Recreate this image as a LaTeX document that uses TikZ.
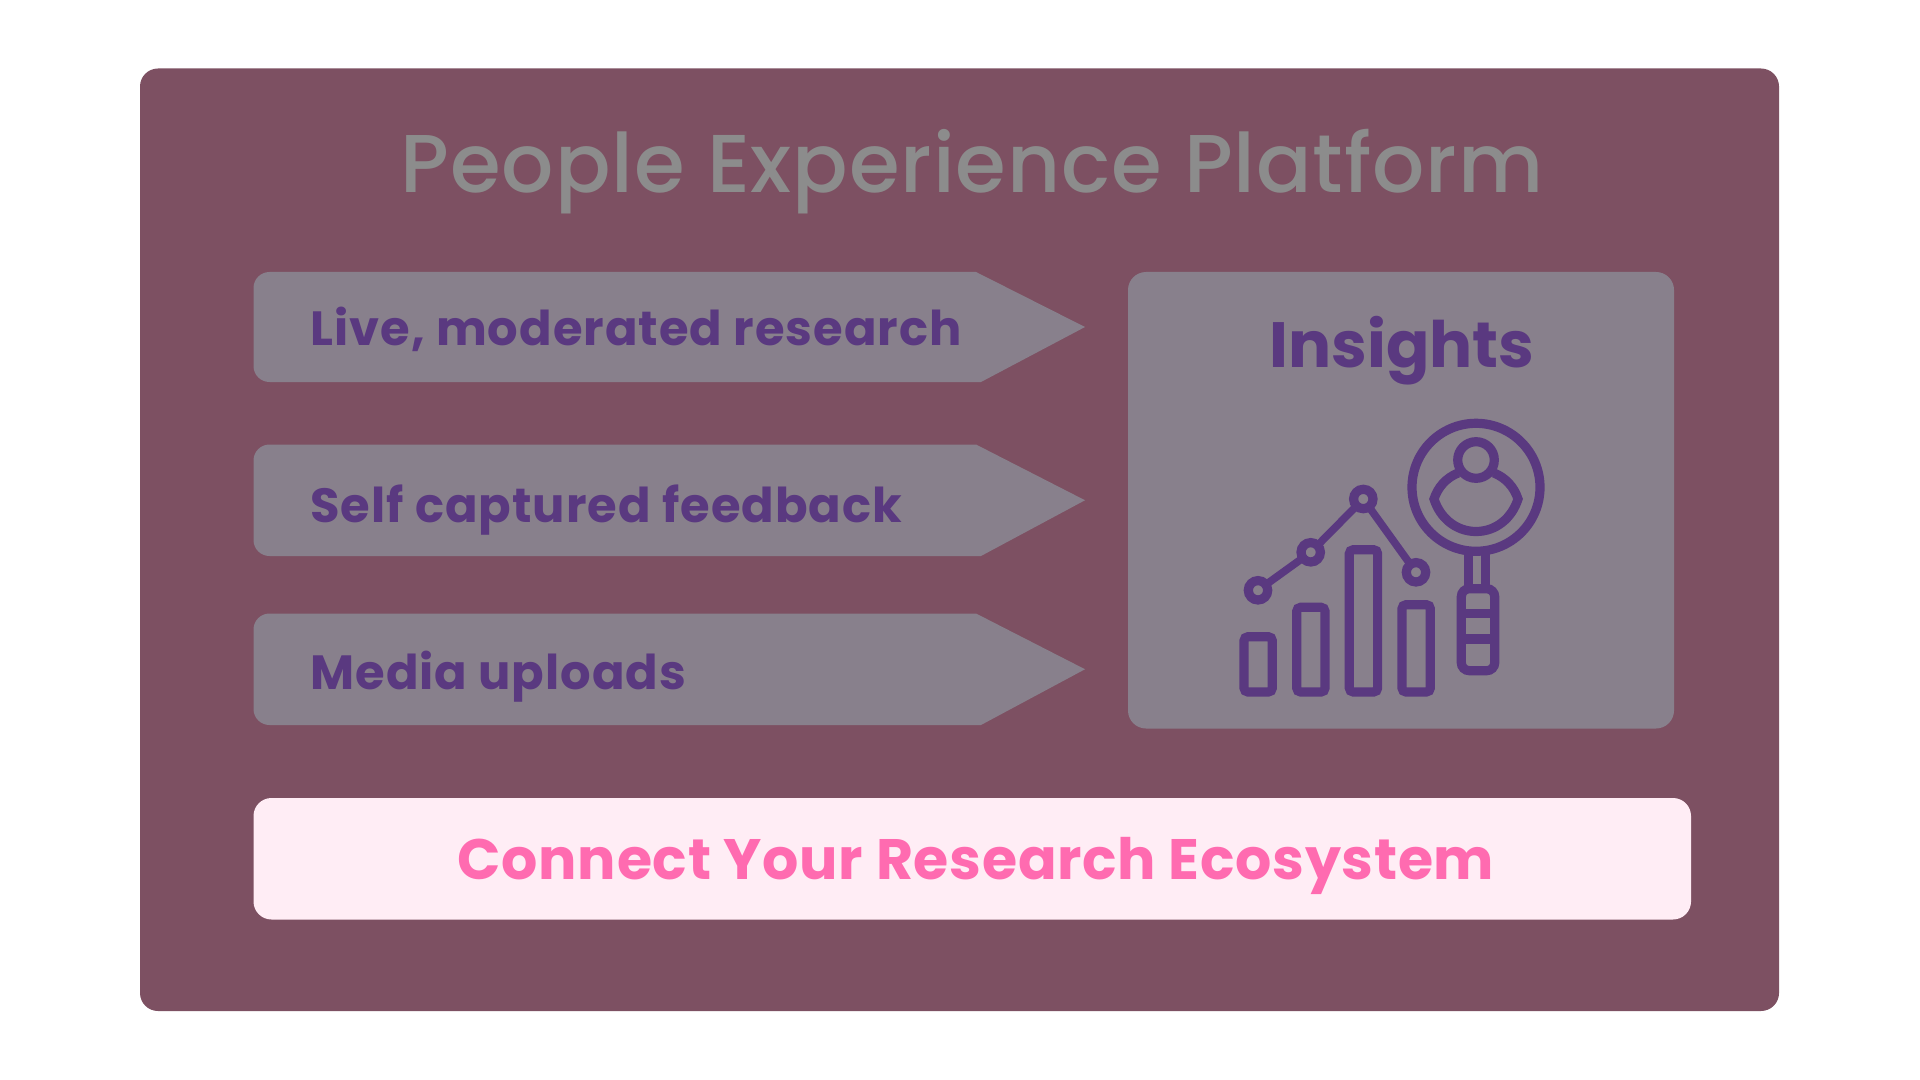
\documentclass[tikz,border=0pt]{standalone}
\usepackage{fontspec}
\usepackage{tikz}
\setmainfont{Poppins}[BoldFont=Poppins Bold]
\newfontfamily\titlefont{Poppins Medium}[LetterSpace=1.1]
\newfontfamily\cardfont{Poppins Bold}[LetterSpace=2.1]
\newfontfamily\ecofont{Poppins Bold}[LetterSpace=1.2]
\definecolor{platformback}{RGB}{125,80,98}
\definecolor{cardback}{RGB}{136,128,140}
\definecolor{inkpurple}{RGB}{90,57,128}
\definecolor{titlegrey}{RGB}{140,140,140}
\definecolor{ecoback}{RGB}{255,237,245}
\definecolor{ecopink}{RGB}{255,107,176}
\tikzset{
  sourcetext/.style={anchor=base west,inner sep=0pt,text=inkpurple,font=\cardfont\fontsize{24}{28}\selectfont},
  iconline/.style={draw=inkpurple,line width=4.6pt,rounded corners=2pt},
}
\newcommand{\sourcecard}[2]{%
  \fill[cardback,rounded corners=8pt] (253.5,#1) -- (253.5,#2) -- (400,#2) [sharp corners] -- (981,#2) -- (1085,{(#1+#2)/2}) -- (976,#1) -- (400,#1) [rounded corners=8pt] -- cycle;
}
\begin{document}
\begin{tikzpicture}[x=0.5pt,y=-0.5pt]
\useasboundingbox (0,0) rectangle (1920,1080);
\fill[white] (0,0) rectangle (1920,1080);
\fill[platformback,rounded corners=9pt] (140,68.5) rectangle (1779,1011);
\node [anchor=base,inner sep=0pt,text=titlegrey,font=\titlefont\fontsize{41}{48}\selectfont] (title) at (972,193) {People Experience Platform};
% the three sources
\sourcecard{272}{382}
\sourcecard{444.5}{556}
\sourcecard{613.5}{725}
\node [sourcetext] (live) at (310,345.5) {Live, moderated research};
\node [sourcetext] (self) at (310,522) {Self captured feedback};
\node [sourcetext] (media) at (310,689.6) {Media uploads};
% insights card
\fill[cardback,rounded corners=9pt] (1128,272) rectangle (1674,728.5);
\node [anchor=base,inner sep=0pt,text=inkpurple,font=\bfseries\fontsize{32}{38}\selectfont] (insights) at (1402,367) {Insights};
% bars
\foreach \bx/\by in {1244/636.7,1296.7/607.3,1349.3/549.7,1402/604.7}
  \draw[iconline] (\bx,\by) rectangle (\bx+28.3,692);
% trend line
\draw[inkpurple,line width=3.8pt] (1258,590.3) -- (1310.7,552.3) -- (1363.3,499) -- (1416,572.3);
\foreach \px/\py in {1258/590.3,1310.7/552.3,1363.3/499,1416/572.3}
  \draw[iconline,fill=cardback] (\px,\py) circle [radius=9.7];
% magnifier
\draw[iconline] (1476,487.3) circle [radius=64];
\draw[iconline] (1476,460) circle [radius=18.3];
\draw[draw=inkpurple,line width=4.6pt] (1458,473) .. controls (1446,478) and (1438,487) .. (1434,499) .. controls (1440,518) and (1456,531.5) .. (1476,531.5) .. controls (1496,531.5) and (1512,518) .. (1518,499) .. controls (1514,487) and (1506,478) .. (1494,473);
\draw[iconline] (1468.7,551) -- (1468.7,588) (1485.3,551) -- (1485.3,588);
\draw[draw=inkpurple,line width=4.6pt,rounded corners=4pt] (1461.3,588.7) rectangle (1494.7,670.7);
\draw[iconline] (1461.3,613.3) -- (1494.7,613.3) (1461.3,639) -- (1494.7,639);
% bottom banner
\fill[ecoback,rounded corners=9pt] (253.5,798) rectangle (1691,919.5);
\node [anchor=base,inner sep=0pt,text=ecopink,font=\ecofont\fontsize{28.5}{34}\selectfont] (connect) at (976,879) {Connect Your Research Ecosystem};
\end{tikzpicture}
\end{document}
